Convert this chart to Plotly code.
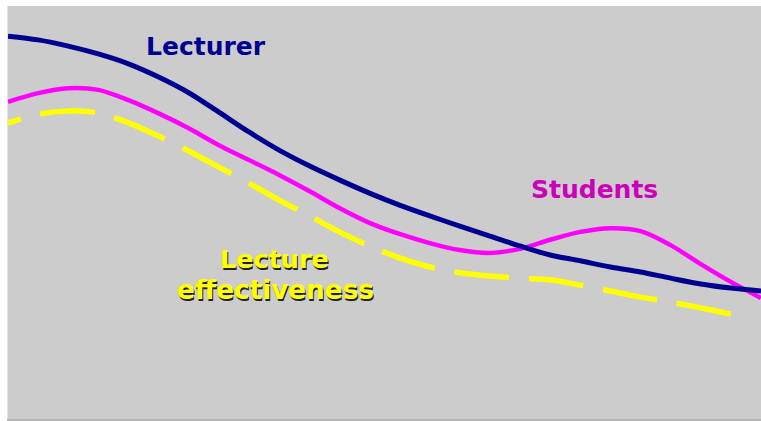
import plotly.graph_objects as go

# lecture time (minutes) and attention level (0-100)
time = [0, 2, 4, 6, 8, 10, 12, 14, 16, 18, 20, 22, 24, 26, 28, 30,
        32, 34, 36, 38, 40, 42, 44, 46, 48, 50]

lecturer = [92.7, 91.8, 90.3, 88.4, 86.0, 82.8, 79.0, 74.3, 69.5, 65.1,
            61.3, 57.9, 54.7, 51.8, 49.2, 46.7, 44.3, 41.9, 39.7, 38.3,
            36.8, 35.6, 34.1, 32.7, 31.7, 31.0]

students = [76.8, 78.9, 80.1, 79.7, 77.2, 74.0, 70.4, 66.3, 62.7, 59.1,
            55.2, 51.1, 47.5, 44.8, 42.6, 40.9, 40.2, 41.2, 43.4, 45.3,
            46.2, 45.5, 42.1, 37.5, 33.2, 29.3]

time_eff = [-2.66, 0, 2, 4, 6, 8, 10, 12, 14, 16, 18, 20, 22, 24, 26, 28,
            30, 32, 34, 36, 38, 40, 42, 44, 46, 48, 48.74]
effectiveness = [69.0, 71.7, 73.8, 74.6, 74.1, 71.7, 68.5, 64.9, 61.0, 57.1,
                 53.0, 49.2, 45.3, 41.9, 39.0, 36.8, 35.4, 34.6, 34.1, 33.7,
                 32.4, 31.0, 29.5, 28.3, 26.9, 25.4, 24.9]

label_lecturer = "Lecturer"
label_students = "Students"
label_effect_1 = "Lecture"
label_effect_2 = "effectiveness"

NAVY = "#000090"
MAGENTA = "#ff00ff"
YELLOW = "#ffff00"
FONT = "DejaVu Sans"

fig = go.Figure()
fig.add_trace(go.Scatter(x=time_eff, y=effectiveness, mode="lines",
                         line=dict(color=YELLOW, width=5.5, shape="spline",
                                   smoothing=0.9, dash="55px,20px"),
                         hoverinfo="skip"))
fig.add_trace(go.Scatter(x=time, y=students, mode="lines",
                         line=dict(color=MAGENTA, width=4.5, shape="spline",
                                   smoothing=0.9),
                         hoverinfo="skip"))
fig.add_trace(go.Scatter(x=time, y=lecturer, mode="lines",
                         line=dict(color=NAVY, width=5, shape="spline",
                                   smoothing=0.9),
                         hoverinfo="skip"))

fig.add_annotation(text="<b>" + label_lecturer + "</b>", xref="paper", yref="paper",
                   x=0.263, y=0.901, xanchor="center", yanchor="middle",
                   showarrow=False, font=dict(family=FONT, size=25, color=NAVY))
fig.add_annotation(text="<b>" + label_students + "</b>", xref="paper", yref="paper",
                   x=0.7795, y=0.5545, xanchor="center", yanchor="middle",
                   showarrow=False, font=dict(family=FONT, size=25, color="#cc00bb"))

# shadowed yellow label, one annotation per line
for txt, xp, yp, sz in [(label_effect_1, 0.3536, 0.3874, 25.5),
                        (label_effect_2, 0.3546, 0.3123, 26.3)]:
    fig.add_annotation(text="<b>" + txt + "</b>", xref="paper", yref="paper",
                       x=xp, y=yp, xanchor="center", yanchor="middle",
                       xshift=1.5, yshift=-1.5, showarrow=False,
                       font=dict(family=FONT, size=sz, color="#202020"))
    fig.add_annotation(text="<b>" + txt + "</b>", xref="paper", yref="paper",
                       x=xp, y=yp, xanchor="center", yanchor="middle",
                       showarrow=False,
                       font=dict(family=FONT, size=sz, color=YELLOW))

fig.update_layout(
    width=761, height=421,
    margin=dict(l=8, r=0, t=6, b=2),
    paper_bgcolor="white",
    plot_bgcolor="#cccccc",
    showlegend=False,
    xaxis=dict(range=[0, 50], showgrid=False, zeroline=False,
               showticklabels=False, showline=True, linecolor="#b4b4b4",
               linewidth=2, fixedrange=True),
    yaxis=dict(range=[0, 100], showgrid=False, zeroline=False,
               showticklabels=False, showline=True, linecolor="#e4e4e4",
               linewidth=1, fixedrange=True),
)

fig.write_html("out.html", config={"displayModeBar": False},
               post_script="document.body.style.margin='0px';")
